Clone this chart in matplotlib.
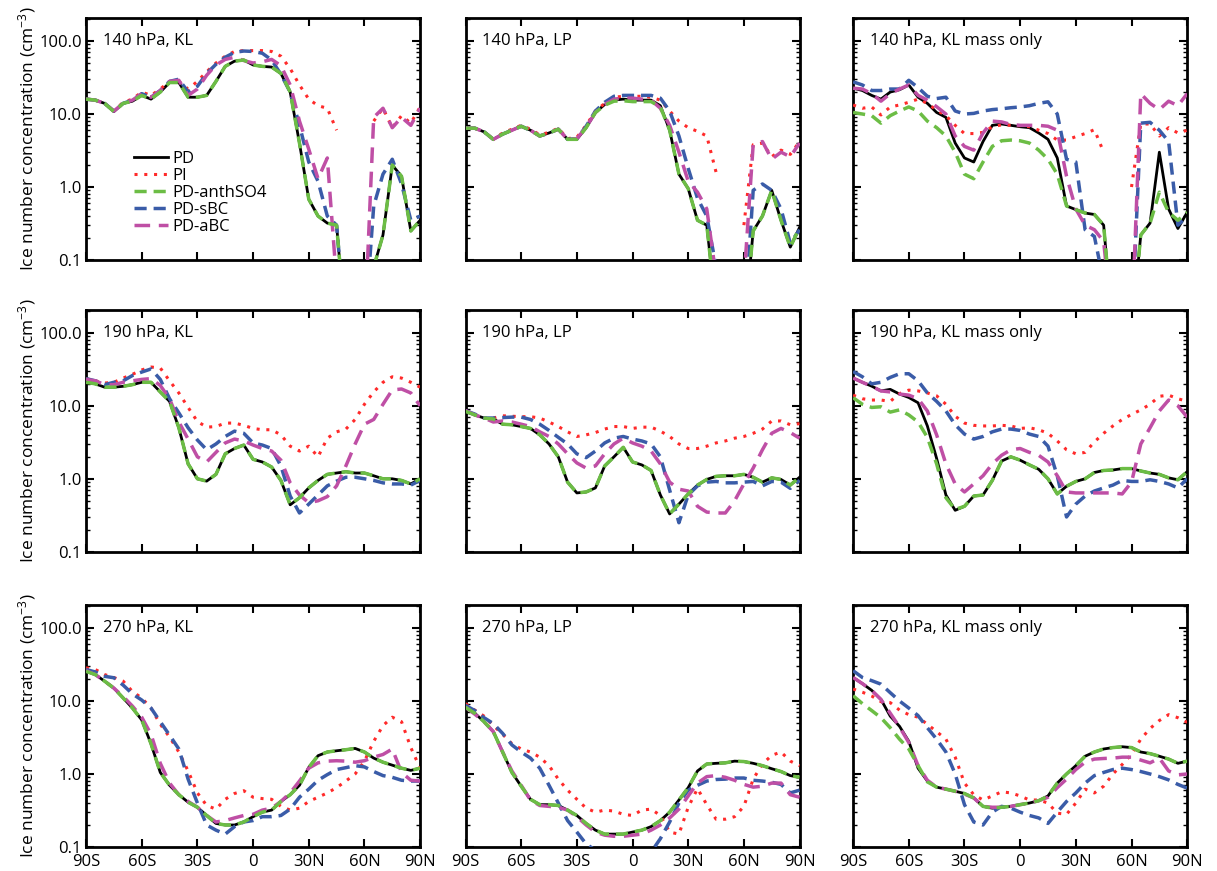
import numpy as np
import matplotlib
matplotlib.use("Agg")
from matplotlib import pyplot as plt
from matplotlib.ticker import LogLocator, NullFormatter

plt.rcParams['font.family'] = ['Open Sans', 'DejaVu Sans']
plt.rcParams['mathtext.default'] = 'regular'

nan = np.nan

# latitude grid (deg), 5 degree steps from 90S to 90N
lat = np.arange(-90, 91, 5)

# ---- 140 hPa, KL ----
pd_140_kl = [16, 15.5, 14, 10.8, 14, 15, 18, 16, 20, 27, 27, 17, 17, 18, 28, 45, 53, 55, 47,
             45, 44, 36, 20, 4, 0.68, 0.4, 0.32, 0.3, 0.01, nan, nan, 0.08, 0.22, 2.0, 1.4, 0.25, 0.35]
pi_140_kl = [16, 15.5, 14, 11, 14.5, 16, 20, 18, 22, 28, 28, 22, 28, 38, 50, 62, 72, 74, 74,
             74, 72, 62, 42, 25, 16, 13, 12, 6, nan, nan, nan, 8, 12, 6.5, 9.5, 7.5, 12.5]
anth_140_kl = [16, 15.5, 14, 10.8, 14, 15, 18, 16, 20, 27, 27, 17, 17, 18, 28, 45, 53, 55, 47,
               45, 44, 36, 20, 4, 0.68, 0.4, 0.32, 0.3, 0.01, nan, nan, 0.08, 0.22, 2.0, 1.4, 0.25, 0.35]
sbc_140_kl = [16, 15.5, 14, 11, 14, 15.5, 19, 17, 21, 28, 30, 20, 24, 36, 48, 60, 70, 73, 72,
              68, 55, 35, 20, 7, 2.2, 1.2, 0.4, 0.3, 0.01, nan, 0.01, 0.55, 1.5, 2.4, 1.1, 0.35, 0.4]
abc_140_kl = [16, 15.5, 14, 11, 14, 15.5, 19, 17, 21, 28, 29, 18, 22, 34, 47, 56, 60, 54, 50,
              52, 56, 46, 25, 8, 3.3, 1.3, 2.5, 0.05, nan, nan, 0.01, 9, 12, 6.5, 9, 7, 12]

# ---- 140 hPa, LP ----
pd_140_lp = [6.4, 6.4, 5.7, 4.5, 5.3, 6.0, 6.8, 6.0, 5.0, 5.5, 6.2, 4.5, 4.5, 6.5, 10.5, 13.5, 15.5, 16, 15.5,
             15.5, 15.5, 13, 6, 1.5, 0.95, 0.35, 0.3, 0.02, nan, nan, 0.01, 0.25, 0.4, 0.9, 0.35, 0.15, 0.28]
pi_140_lp = [6.4, 6.4, 5.7, 4.5, 5.5, 6.2, 7.0, 6.2, 5.2, 5.6, 6.4, 4.6, 4.8, 7.0, 11, 14, 17, 17.5, 17.5,
             17.5, 17, 15.5, 11, 8, 6.5, 5.8, 5.0, 1.6, nan, nan, 0.3, 3.8, 4.0, 2.6, 3.2, 2.8, 4.2]
anth_140_lp = [6.4, 6.4, 5.7, 4.5, 5.3, 6.0, 6.8, 6.0, 5.0, 5.5, 6.2, 4.5, 4.5, 6.5, 10.5, 13.2, 15, 15.2, 14.8,
               14.8, 14.8, 12.5, 6, 1.5, 0.95, 0.35, 0.3, 0.02, nan, nan, 0.01, 0.25, 0.4, 0.9, 0.35, 0.15, 0.28]
sbc_140_lp = [6.4, 6.4, 5.7, 4.5, 5.3, 6.0, 6.8, 6.0, 5.0, 5.5, 6.2, 4.5, 4.6, 6.8, 11, 14.5, 17.5, 18, 18,
              18, 18, 16.5, 11, 5, 1.8, 0.7, 0.4, 0.08, nan, nan, 0.01, 0.9, 1.1, 0.9, 0.5, 0.17, 0.26]
abc_140_lp = [6.4, 6.4, 5.7, 4.5, 5.3, 6.0, 6.8, 6.0, 5.0, 5.5, 6.2, 4.5, 4.6, 6.6, 10.5, 13.5, 16, 16.5, 16.5,
              16, 15.5, 12, 7, 3, 1.2, 0.85, 0.5, 0.06, nan, nan, 0.05, 3.8, 4.2, 2.4, 3.0, 2.6, 4.0]

# ---- 140 hPa, KL mass only ----
pd_140_mo = [22.6, 21, 18, 16, 20, 21.5, 25, 17, 14, 10.5, 9, 4, 2.5, 2.2, 4.2, 7, 7.3, 7, 6.7,
             6.5, 5.5, 4.5, 2.5, 0.55, 0.49, 0.44, 0.42, 0.3, 0.01, nan, 0.01, 0.22, 0.32, 3.0, 0.5, 0.27, 0.45]
pi_140_mo = [13.3, 12, 12.5, 9.7, 12.5, 13.3, 14.5, 16, 14, 11.3, 9.5, 7, 5.4, 5.4, 5.6, 6.7, 7.1, 7, 6.9,
             6.7, 6, 5.4, 4.4, 4.4, 4.9, 5.4, 6.1, 3, nan, nan, 1.0, 7.3, 7.3, 5, 6.5, 5.5, 6]
anth_140_mo = [10.5, 10, 9.5, 7.5, 9.5, 11, 12.5, 11, 8, 6.5, 5, 3, 1.5, 1.3, 2.2, 3.6, 4.3, 4.4, 4.3,
               4, 3.2, 2.4, 1.5, 0.55, 0.49, 0.44, 0.42, 0.3, 0.01, nan, 0.01, 0.22, 0.32, 0.85, 0.45, 0.35, 0.45]
sbc_140_mo = [27.6, 25, 21, 21, 22, 22, 29, 23, 17.5, 16.3, 17, 11, 10, 10.2, 11, 11.5, 11.8, 12.2, 12.5,
              13, 14, 14.7, 10, 2.4, 2.2, 0.26, 0.21, 0.05, nan, nan, 0.01, 7.5, 7.7, 6, 4.2, 0.3, 0.4]
abc_140_mo = [22.6, 22, 19, 15, 19, 22, 25, 18, 15.5, 12.6, 10, 5, 3.6, 3.2, 5.5, 8, 7.8, 7.2, 7,
              7, 7, 6.8, 6, 1.4, 0.5, 0.3, 0.26, 0.18, 0.01, nan, 0.01, 19, 14, 11.5, 15, 13, 19]

# ---- 190 hPa, KL ----
pd_190_kl = [21, 20, 18, 18, 18.5, 19.5, 21, 21, 15.5, 11.5, 5, 1.6, 1.0, 0.93, 1.15, 2.2, 2.6, 2.9, 1.85,
             1.7, 1.45, 0.95, 0.44, 0.55, 0.75, 0.95, 1.15, 1.2, 1.25, 1.2, 1.2, 1.1, 1.0, 1.0, 0.95, 0.85, 1.0]
pi_190_kl = [23.6, 22, 20.5, 21, 24, 27, 31, 34, 33, 22, 15, 9.5, 6.1, 5.1, 5.2, 5.8, 5.8, 5.4, 4.9,
             4.7, 4.7, 4.0, 2.8, 2.4, 2.8, 2.0, 3.6, 4.4, 4.8, 6.5, 10.5, 15.5, 21, 25, 24, 21, 18]
anth_190_kl = [21, 20, 18, 18, 18.5, 19.5, 21, 21, 15.5, 11.5, 5, 1.6, 1.0, 0.93, 1.15, 2.2, 2.6, 2.9, 1.85,
               1.7, 1.45, 0.95, 0.44, 0.55, 0.75, 0.95, 1.15, 1.2, 1.25, 1.2, 1.2, 1.1, 1.0, 1.0, 0.95, 0.85, 1.0]
sbc_190_kl = [23.6, 22, 19.5, 21, 22, 26, 29, 32, 23, 12.5, 8, 5, 3.4, 2.5, 3.0, 3.8, 4.5, 4.2, 3.1,
              2.9, 2.6, 1.5, 0.58, 0.34, 0.45, 0.6, 0.8, 0.93, 1.05, 1.05, 1.0, 0.95, 0.88, 0.85, 0.85, 0.82, 0.95]
abc_190_kl = [23, 22, 19.5, 19.5, 21, 22, 23, 23.6, 19, 12.5, 6, 3.5, 2.0, 1.7, 2.3, 3.1, 3.5, 3.3, 2.9,
              2.6, 2.4, 1.8, 0.88, 0.6, 0.47, 0.5, 0.57, 0.8, 1.5, 3.0, 5.6, 6.5, 10.5, 16.5, 17, 15, 10]

# ---- 190 hPa, LP ----
pd_190_lp = [8.4, 7.5, 6.8, 6.6, 5.6, 5.5, 5.2, 4.9, 4.0, 3.0, 2.0, 0.9, 0.64, 0.66, 0.75, 1.5, 2.0, 2.7, 1.7,
             1.55, 1.3, 0.6, 0.33, 0.45, 0.62, 0.82, 0.98, 1.08, 1.1, 1.1, 1.15, 1.05, 0.9, 1.03, 0.98, 0.82, 1.05]
pi_190_lp = [8.6, 7.5, 6.8, 6.8, 7.3, 7.2, 7.1, 7.1, 6.8, 6, 5.2, 4.4, 3.8, 4, 4.3, 4.8, 5.2, 5.2, 4.9,
             5.1, 5.1, 4.5, 3.8, 3.0, 2.6, 2.6, 2.8, 3.1, 3.3, 3.6, 3.8, 4.2, 4.8, 6.2, 6.2, 5.5, 5.7]
anth_190_lp = [8.4, 7.5, 6.8, 6.6, 5.6, 5.5, 5.2, 4.9, 4.0, 3.0, 2.0, 0.9, 0.64, 0.66, 0.75, 1.5, 2.0, 2.7, 1.7,
               1.55, 1.3, 0.6, 0.33, 0.45, 0.62, 0.82, 0.98, 1.08, 1.1, 1.1, 1.15, 1.05, 0.9, 1.03, 0.98, 0.82, 1.05]
sbc_190_lp = [8.6, 7.7, 6.8, 6.8, 6.9, 7.0, 7.0, 6.5, 5.6, 4.6, 3.7, 3.0, 2.2, 1.95, 2.4, 3.1, 3.6, 3.8, 3.5,
              3.3, 3.0, 2.0, 0.7, 0.25, 0.6, 0.8, 0.9, 0.92, 0.88, 0.88, 0.9, 0.92, 0.8, 0.92, 0.9, 0.74, 0.95]
abc_190_lp = [8.6, 7.5, 6.8, 6.0, 6.2, 6.0, 5.6, 5.2, 4.4, 3.8, 3.0, 2.2, 1.65, 1.4, 1.5, 2.2, 3.0, 3.6, 3.1,
              2.8, 2.4, 1.6, 0.9, 0.72, 0.68, 0.42, 0.35, 0.34, 0.34, 0.5, 0.85, 1.4, 2.5, 4.2, 4.9, 4.3, 3.6]

# ---- 190 hPa, KL mass only ----
pd_190_mo = [24, 21, 18.6, 16, 16.8, 14.5, 13, 11, 5.3, 1.9, 0.6, 0.37, 0.42, 0.58, 0.6, 0.95, 1.75, 2.0, 1.8,
             1.55, 1.35, 1.0, 0.62, 0.79, 0.92, 1.0, 1.22, 1.3, 1.32, 1.38, 1.38, 1.28, 1.2, 1.15, 1.03, 0.97, 1.25]
pi_190_mo = [14, 12.5, 12, 12, 11.5, 14.7, 16.4, 16, 15, 13.7, 10.5, 7.2, 5.8, 5.4, 5.3, 5.3, 5.4, 5.3, 4.9,
             5.0, 4.7, 4.2, 3.3, 2.5, 2.2, 2.3, 3.2, 4.2, 5.3, 6.5, 7.6, 8.8, 10.5, 13.5, 14, 12.5, 11.5]
anth_190_mo = [12.9, 10.5, 9.5, 9.7, 8.2, 8.8, 7.5, 6, 3.7, 1.6, 0.55, 0.38, 0.42, 0.58, 0.6, 0.95, 1.75, 2.0, 1.8,
               1.55, 1.35, 1.0, 0.62, 0.79, 0.92, 1.0, 1.22, 1.3, 1.32, 1.38, 1.38, 1.28, 1.2, 1.15, 1.03, 0.97, 1.25]
sbc_190_mo = [29.5, 25, 20, 21, 24.5, 27.5, 27.5, 22, 15, 11.5, 8.5, 5.5, 4.1, 3.5, 3.8, 4.4, 4.8, 4.8, 4.6,
              4.1, 3.8, 2.8, 1.1, 0.3, 0.45, 0.58, 0.68, 0.75, 0.82, 0.95, 0.92, 0.92, 0.97, 0.92, 0.85, 0.75, 1.0]
abc_190_mo = [24, 21, 18.5, 16, 15.5, 14.5, 14, 12.5, 8.5, 4, 1.6, 0.85, 0.66, 0.85, 1.1, 1.6, 2.1, 2.5, 2.6,
              2.3, 2.1, 1.7, 1.1, 0.66, 0.64, 0.64, 0.64, 0.64, 0.64, 0.62, 0.9, 3.0, 5, 8.5, 12, 10, 7]

# ---- 270 hPa, KL ----
pd_270_kl = [25.5, 23, 18.7, 15, 11, 8, 5.5, 2.6, 1.05, 0.7, 0.52, 0.41, 0.35, 0.27, 0.21, 0.2, 0.2, 0.22, 0.26,
             0.3, 0.32, 0.42, 0.52, 0.7, 1.23, 1.78, 2.0, 2.08, 2.15, 2.24, 2.0, 1.65, 1.45, 1.32, 1.2, 1.12, 1.2]
pi_270_kl = [28.5, 27, 23, 21, 18.7, 13.5, 11, 8, 4.8, 3.2, 2.0, 1.1, 0.55, 0.37, 0.33, 0.45, 0.54, 0.59, 0.48,
             0.46, 0.45, 0.36, 0.32, 0.34, 0.42, 0.48, 0.55, 0.65, 0.8, 1.0, 1.5, 2.8, 4.6, 6, 5.2, 2.3, 1.2]
anth_270_kl = [25.5, 23, 18.7, 15, 11, 8, 5.5, 2.6, 1.05, 0.7, 0.52, 0.41, 0.35, 0.27, 0.21, 0.2, 0.2, 0.22, 0.26,
               0.3, 0.32, 0.42, 0.52, 0.7, 1.23, 1.78, 2.0, 2.08, 2.15, 2.24, 2.0, 1.65, 1.45, 1.32, 1.2, 1.12, 1.2]
sbc_270_kl = [27, 25, 21.8, 20.8, 16.5, 12.5, 10.3, 8, 5.2, 3.4, 2.2, 0.85, 0.4, 0.2, 0.17, 0.15, 0.19, 0.22, 0.23,
              0.26, 0.26, 0.27, 0.33, 0.48, 0.62, 0.82, 0.98, 1.15, 1.22, 1.3, 1.25, 1.08, 0.95, 0.9, 0.82, 0.8, 0.8]
abc_270_kl = [26, 23, 18.7, 15, 11.5, 8.5, 6, 3.5, 1.4, 0.75, 0.52, 0.42, 0.35, 0.27, 0.22, 0.23, 0.25, 0.27, 0.28,
              0.32, 0.34, 0.42, 0.55, 0.8, 1.2, 1.42, 1.5, 1.52, 1.5, 1.45, 1.52, 1.7, 1.85, 2.2, 1.05, 0.82, 0.8]

# ---- 270 hPa, LP ----
pd_270_lp = [8.2, 6.8, 5.2, 3.8, 2.0, 1.05, 0.68, 0.45, 0.38, 0.38, 0.37, 0.32, 0.27, 0.21, 0.17, 0.15, 0.15, 0.15, 0.16,
             0.17, 0.19, 0.23, 0.3, 0.44, 0.65, 1.1, 1.37, 1.4, 1.42, 1.5, 1.48, 1.4, 1.3, 1.18, 1.08, 0.95, 0.9]
pi_270_lp = [9.2, 7.5, 6.2, 4.6, 3.5, 2.6, 2.2, 2.0, 1.7, 1.3, 0.85, 0.6, 0.45, 0.34, 0.3, 0.32, 0.31, 0.28, 0.27,
             0.32, 0.33, 0.27, 0.16, 0.15, 0.35, 0.63, 0.38, 0.24, 0.24, 0.26, 0.36, 0.85, 1.37, 1.8, 2.0, 1.5, 1.3]
anth_270_lp = [8.2, 6.8, 5.2, 3.8, 2.0, 1.05, 0.68, 0.45, 0.38, 0.38, 0.37, 0.32, 0.27, 0.21, 0.17, 0.15, 0.15, 0.15, 0.16,
               0.17, 0.19, 0.23, 0.3, 0.44, 0.65, 1.1, 1.37, 1.4, 1.42, 1.5, 1.48, 1.4, 1.3, 1.18, 1.08, 0.95, 0.9]
sbc_270_lp = [8.7, 7.4, 5.9, 4.9, 3.6, 2.5, 2.0, 1.65, 1.2, 0.7, 0.4, 0.23, 0.16, 0.11, 0.09, 0.07, 0.06, 0.06, 0.065,
              0.07, 0.085, 0.13, 0.22, 0.4, 0.6, 0.7, 0.8, 0.84, 0.85, 0.88, 0.88, 0.82, 0.8, 0.77, 0.72, 0.55, 0.6]
abc_270_lp = [8.2, 6.6, 5.2, 3.8, 2.0, 1.1, 0.7, 0.44, 0.37, 0.36, 0.35, 0.32, 0.26, 0.2, 0.16, 0.145, 0.14, 0.14, 0.145,
              0.15, 0.17, 0.2, 0.25, 0.33, 0.5, 0.75, 0.92, 0.95, 0.9, 0.82, 0.72, 0.66, 0.68, 0.75, 0.75, 0.52, 0.48]

# ---- 270 hPa, KL mass only ----
pd_270_mo = [21, 17.3, 14, 10.5, 6.2, 4.5, 2.8, 1.2, 0.8, 0.66, 0.62, 0.58, 0.54, 0.47, 0.36, 0.34, 0.35, 0.36, 0.38,
             0.4, 0.43, 0.5, 0.75, 1.0, 1.3, 1.75, 2.0, 2.2, 2.3, 2.36, 2.3, 2.0, 1.9, 1.75, 1.6, 1.4, 1.5]
pi_270_mo = [14.6, 13.2, 11.7, 9.8, 9.5, 7.5, 6.5, 6, 4.8, 3.8, 3.0, 1.7, 0.75, 0.52, 0.44, 0.5, 0.57, 0.55, 0.5,
             0.44, 0.44, 0.4, 0.29, 0.28, 0.4, 0.62, 0.55, 0.68, 1.0, 1.35, 1.85, 3.0, 4.2, 5.4, 6.5, 5.9, 5.1]
anth_270_mo = [11.8, 9.2, 7.4, 5.9, 4.3, 3.0, 2.2, 1.3, 0.78, 0.66, 0.62, 0.58, 0.54, 0.47, 0.36, 0.34, 0.35, 0.36, 0.38,
               0.4, 0.43, 0.5, 0.75, 1.0, 1.3, 1.75, 2.0, 2.2, 2.3, 2.36, 2.3, 2.0, 1.9, 1.75, 1.6, 1.4, 1.5]
sbc_270_mo = [26, 21, 19, 17, 13, 10, 8, 6.3, 4.3, 3.0, 2.0, 1.0, 0.38, 0.22, 0.2, 0.3, 0.36, 0.34, 0.3,
              0.27, 0.25, 0.21, 0.3, 0.42, 0.55, 0.75, 0.95, 1.05, 1.15, 1.2, 1.15, 1.08, 1.0, 0.92, 0.83, 0.72, 0.64]
abc_270_mo = [21, 17.3, 14, 10.5, 6.8, 4.4, 2.7, 1.3, 0.82, 0.66, 0.62, 0.58, 0.53, 0.47, 0.36, 0.35, 0.35, 0.36, 0.38,
              0.4, 0.43, 0.48, 0.65, 0.85, 1.15, 1.45, 1.6, 1.63, 1.65, 1.7, 1.7, 1.55, 1.42, 1.65, 1.1, 0.97, 1.0]

titles = [["140 hPa, KL", "140 hPa, LP", "140 hPa, KL mass only"],
          ["190 hPa, KL", "190 hPa, LP", "190 hPa, KL mass only"],
          ["270 hPa, KL", "270 hPa, LP", "270 hPa, KL mass only"]]
panels = [[(pd_140_kl, pi_140_kl, anth_140_kl, sbc_140_kl, abc_140_kl),
           (pd_140_lp, pi_140_lp, anth_140_lp, sbc_140_lp, abc_140_lp),
           (pd_140_mo, pi_140_mo, anth_140_mo, sbc_140_mo, abc_140_mo)],
          [(pd_190_kl, pi_190_kl, anth_190_kl, sbc_190_kl, abc_190_kl),
           (pd_190_lp, pi_190_lp, anth_190_lp, sbc_190_lp, abc_190_lp),
           (pd_190_mo, pi_190_mo, anth_190_mo, sbc_190_mo, abc_190_mo)],
          [(pd_270_kl, pi_270_kl, anth_270_kl, sbc_270_kl, abc_270_kl),
           (pd_270_lp, pi_270_lp, anth_270_lp, sbc_270_lp, abc_270_lp),
           (pd_270_mo, pi_270_mo, anth_270_mo, sbc_270_mo, abc_270_mo)]]

labels = ["PD", "PI", "PD-anthSO4", "PD-sBC", "PD-aBC"]
xticks = [-90, -60, -30, 0, 30, 60, 90]
xticklabels = ["90S", "60S", "30S", "0", "30N", "60N", "90N"]
yticks = [0.1, 1, 10, 100]
yticklabels = ["0.1", "1.0", "10.0", "100.0"]

# line styles: color, linestyle, width, zorder
styles = [dict(color="black", ls="-", lw=2.0, zorder=2),
          dict(color="#ff2a2a", ls=(0, (1, 2.2)), lw=2.2, zorder=3),
          dict(color="#6cbd45", ls=(0, (3.5, 2)), lw=2.5, zorder=5),
          dict(color="#3a5ca8", ls=(0, (3.5, 2)), lw=2.5, zorder=3),
          dict(color="#bf4fa5", ls=(0, (4.5, 2.5)), lw=2.5, zorder=4)]

fig = plt.figure(figsize=(12.17, 8.71), dpi=100)

lefts = [0.0707, 0.3825, 0.701]
width = 0.2745
bottoms = [0.7015, 0.3665, 0.0276]
height = 0.2775

for r in range(3):
    for c in range(3):
        ax = fig.add_axes([lefts[c], bottoms[r], width, height])
        for series, lab, st in zip(panels[r][c], labels, styles):
            ax.plot(lat, series, label=lab, color=st["color"], linestyle=st["ls"],
                    linewidth=st["lw"], zorder=st["zorder"])
        ax.set_yscale("log")
        ax.set_xlim(-90, 90)
        ax.set_ylim(0.1, 205)
        ax.set_xticks(xticks)
        ax.set_yticks(yticks)
        ax.yaxis.set_minor_locator(LogLocator(base=10, subs=np.arange(2, 10), numticks=20))
        ax.yaxis.set_minor_formatter(NullFormatter())
        if r == 2:
            ax.set_xticklabels(xticklabels)
        else:
            ax.set_xticklabels([])
        if c == 0:
            ax.set_yticklabels(yticklabels)
            ax.set_ylabel("Ice number concentration (cm$^{-3}$)", fontsize=12.5, labelpad=1)
        else:
            ax.set_yticklabels([])
        ax.tick_params(which="both", direction="in", top=True, right=True, labelsize=12, pad=3)
        ax.tick_params(axis="x", pad=5)
        ax.tick_params(which="major", length=6, width=1.5)
        ax.tick_params(which="minor", length=3, width=1.0)
        for sp in ax.spines.values():
            sp.set_linewidth(2)
        ax.text(0.05, 0.905, titles[r][c], transform=ax.transAxes, fontsize=12, va="center")
        if r == 0 and c == 0:
            ax.legend(loc="upper left", bbox_to_anchor=(0.145, 0.45), frameon=False, fontsize=12,
                      handlelength=2.0, handletextpad=0.3, labelspacing=0.05,
                      borderpad=0, borderaxespad=0)

fig.savefig("out.png", dpi=100)
